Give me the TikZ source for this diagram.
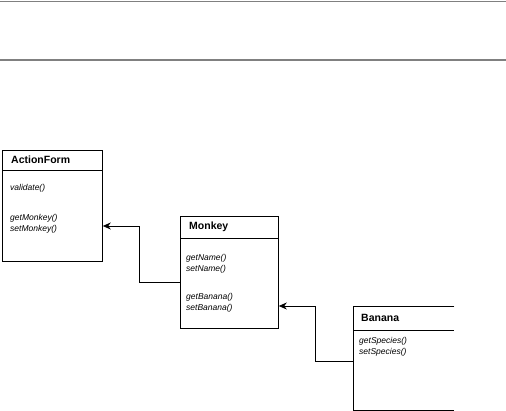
\documentclass[tikz,border=0pt]{standalone}
\usepackage{fontspec}
\setmainfont{Liberation Sans}
\usetikzlibrary{arrows.meta}
\tikzset{cls/.append style={draw, line width=0.8pt, rectangle, inner sep=0pt, anchor=north west}}
\tikzset{ttl/.append style={anchor=west, inner sep=0pt, font=\fontsize{10.5}{12}\selectfont\bfseries}}
\tikzset{mth/.append style={anchor=west, inner sep=0pt, align=left, font=\fontsize{8.5}{10.5}\selectfont\itshape}}
\tikzset{arr/.append style={line width=0.8pt, -{Stealth[length=8pt,width=7pt]}}}
\tikzset{rule/.append style={draw=black!50, line width=1.4pt}}

\begin{document}
\begin{tikzpicture}[x=1pt,y=-1pt]
                \useasboundingbox (0,0) rectangle (506,411);
                % rules at the top
                \draw[rule] (0,1.5) -- (506,1.5);
                \draw[rule] (0,60) -- (506,60);
                % ActionForm
                \node[cls, minimum width=100pt, minimum height=111pt] (af) at (2,150) {};
                \draw[line width=0.8pt] ([yshift=-20pt]af.north west) -- ([yshift=-20pt]af.north east);
                \node[ttl] (aft) at (11,160) {ActionForm};
                \node[mth] (afv) at (10,188) {validate()};
                \node[mth] (afm) at (10,224) {getMonkey()\\setMonkey()};
                % Monkey
                \node[cls, minimum width=98pt, minimum height=112pt] (mk) at (180,216) {};
                \draw[line width=0.8pt] ([yshift=-22pt]mk.north west) -- ([yshift=-22pt]mk.north east);
                \node[ttl] (mkt) at (189,227) {Monkey};
                \node[mth] (mkn) at (186,264) {getName()\\setName()};
                \node[mth] (mkb) at (186,303) {getBanana()\\setBanana()};
                % Banana (cut at the right)
                \node[minimum width=101pt, minimum height=104pt, inner sep=0pt, anchor=north west] (bn) at (353,306) {};
                \draw[line width=0.8pt] (bn.north east) -- (bn.north west) -- (bn.south west) -- (bn.south east);
                \draw[line width=0.8pt] ([yshift=-24pt]bn.north west) -- ([yshift=-24pt]bn.north east);
                \node[ttl] (bnt) at (361,318) {Banana};
                \node[mth] (bns) at (359,347) {getSpecies()\\setSpecies()};
                % connectors
                \coordinate (j1) at (139,282);
                \coordinate (j2) at (139,226);
                \coordinate (k1) at (315,361);
                \coordinate (k2) at (315,306);
                \draw[arr] (mk.west |- j1) -- (j1) -- (j2) -- (af.east |- j2);
                \draw[arr] (bn.west |- k1) -- (k1) -- (k2) -- (mk.east |- k2);
            \end{tikzpicture}
\end{document}
